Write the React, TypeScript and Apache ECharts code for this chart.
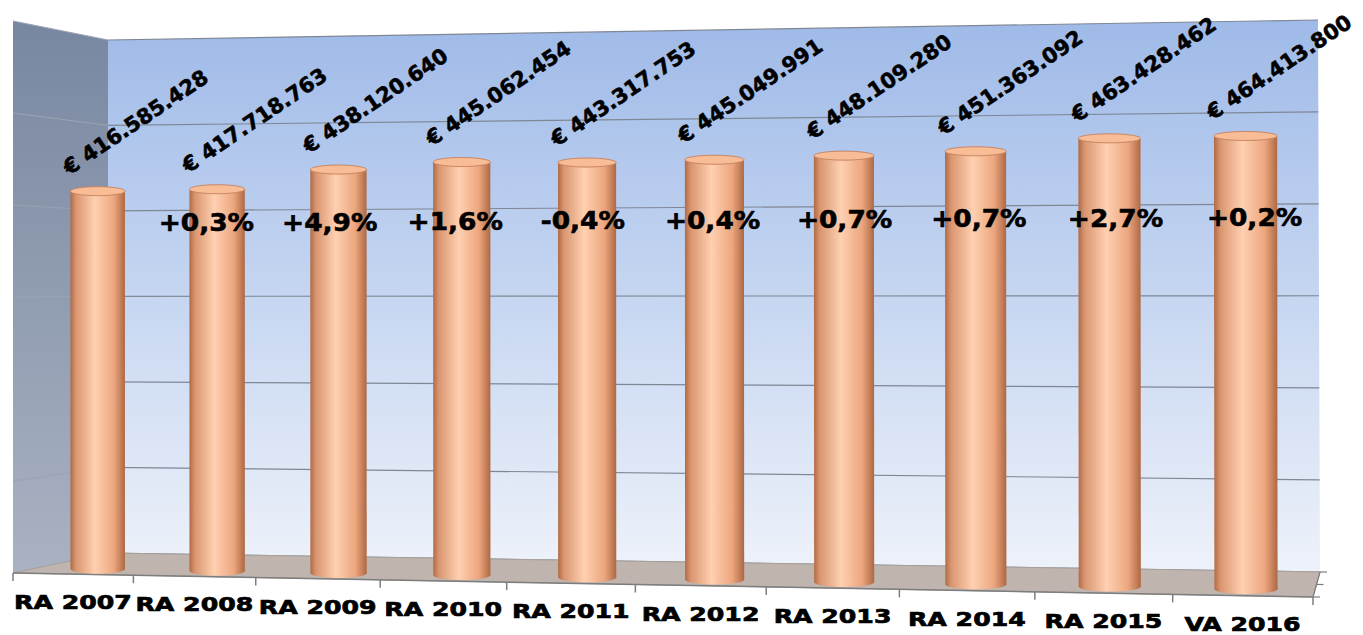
import React, { useEffect, useRef } from "react";
import * as echarts from "echarts";

const categories = ["RA 2007", "RA 2008", "RA 2009", "RA 2010", "RA 2011", "RA 2012", "RA 2013", "RA 2014", "RA 2015", "VA 2016"];
const budgetValues = [416585428, 417718763, 438120640, 445062454, 443317753, 445049991, 448109280, 451363092, 463428462, 464413800];
const valueLabels = ["€ 416.585.428", "€ 417.718.763", "€ 438.120.640", "€ 445.062.454", "€ 443.317.753", "€ 445.049.991", "€ 448.109.280", "€ 451.363.092", "€ 463.428.462", "€ 464.413.800"];
const changeLabels = ["", "+0,3%", "+4,9%", "+1,6%", "-0,4%", "+0,4%", "+0,7%", "+0,7%", "+2,7%", "+0,2%"];
const yTicks = [0, 100000000, 200000000, 300000000, 400000000, 500000000, 600000000];
const Y_MIN = 0;
const Y_MAX = 600000000;
const Y_INTERVAL = 100000000;
const PCT_LEVEL = 379000000;

// perspective frame (layout): front plane and back wall quads, BL, BR, TR, TL
const FRONT: number[][] = [[13, 573], [1313, 597], [1313, -4], [13, 21]];
const BACK: number[][] = [[108, 553], [1320, 572], [1318, 20], [108, 40]];
const BAR_DEPTH = 0.27;
const BAR_HALF = 0.023;

function makeH(q: number[][]) {
  const [[x0, y0], [x1, y1], [x2, y2], [x3, y3]] = q;
  const dx1 = x1 - x2, dx2 = x3 - x2, dx3 = x0 - x1 + x2 - x3;
  const dy1 = y1 - y2, dy2 = y3 - y2, dy3 = y0 - y1 + y2 - y3;
  const den = dx1 * dy2 - dx2 * dy1;
  const g = (dx3 * dy2 - dx2 * dy3) / den;
  const h = (dx1 * dy3 - dx3 * dy1) / den;
  const a = x1 - x0 + g * x1, b = x3 - x0 + h * x3, c = x0;
  const d = y1 - y0 + g * y1, e = y3 - y0 + h * y3, f = y0;
  return (s: number, t: number) => {
    const z = g * s + h * t + 1;
    return [(a * s + b * t + c) / z, (d * s + e * t + f) / z];
  };
}
const HF = makeH(FRONT);
const HB = makeH(BACK);
function proj(s: number, t: number, w: number) {
  const F = HF(s, t);
  const B = HB(s, t);
  return [F[0] + (B[0] - F[0]) * w, F[1] + (B[1] - F[1]) * w];
}

const FONT = "DejaVu Sans";

export default function App() {
  const ref = useRef<HTMLDivElement>(null);
  useEffect(() => {
    const chart = echarts.init(ref.current!, null, { renderer: "svg" });

    const norm = (api: any, cs: any, cat: number, val: number) => {
      const c = api.coord([cat, val]);
      return [(c[0] - cs.x) / cs.width, (cs.y + cs.height - c[1]) / cs.height];
    };

    const frameRender = (params: any, api: any) => {
      const cs = params.coordSys;
      const children: any[] = [];
      const pts = (arr: number[][]) => arr.map((p) => [p[0], p[1]]);
      // side wall
      children.push({
        type: "polygon",
        shape: { points: pts([proj(0, 0, 0), proj(0, 0, 1), proj(0, 1, 1), proj(0, 1, 0)]) },
        style: {
          fill: new echarts.graphic.LinearGradient(0, 0, 0, 1, [
            { offset: 0, color: "#7887a1" },
            { offset: 1, color: "#a9b2c2" },
          ]),
        },
      });
      // back wall
      children.push({
        type: "polygon",
        shape: { points: pts([proj(0, 0, 1), proj(1, 0, 1), proj(1, 1, 1), proj(0, 1, 1)]) },
        style: {
          fill: new echarts.graphic.LinearGradient(0, 0, 0, 1, [
            { offset: 0, color: "#9fbae8" },
            { offset: 0.5, color: "#c6d6f1" },
            { offset: 1, color: "#eef2fa" },
          ]),
        },
      });
      // grid lines
      yTicks.forEach((tick) => {
        const t = norm(api, cs, 0, tick)[1];
        const a = proj(0, t, 0), b = proj(0, t, 1), c = proj(1, t, 1);
        children.push({ type: "line", shape: { x1: a[0], y1: a[1], x2: b[0], y2: b[1] }, style: { stroke: "#9aa3b2", lineWidth: 1 } });
        children.push({ type: "line", shape: { x1: b[0], y1: b[1], x2: c[0], y2: c[1] }, style: { stroke: "#7f8795", lineWidth: 1.2 } });
      });
      // floor
      children.push({
        type: "polygon",
        shape: { points: pts([proj(0, 0, 0), proj(1, 0, 0), proj(1, 0, 1), proj(0, 0, 1)]) },
        style: { fill: "#bfb4ae", stroke: "#a9a09b", lineWidth: 1 },
      });
      // axis line + ticks
      const l0 = proj(0, 0, 0), l1 = proj(1, 0, 0);
      children.push({ type: "line", shape: { x1: l0[0], y1: l0[1], x2: l1[0], y2: l1[1] }, style: { stroke: "#7d7d7d", lineWidth: 1.5 } });
      const band = api.size([1, 0])[0] / cs.width;
      for (let k = 0; k <= categories.length; k++) {
        const s = k < categories.length ? norm(api, cs, k, 0)[0] - band / 2 : norm(api, cs, k - 1, 0)[0] + band / 2;
        const p = proj(s, 0, 0);
        children.push({ type: "line", shape: { x1: p[0], y1: p[1], x2: p[0], y2: p[1] + 8 }, style: { stroke: "#7d7d7d", lineWidth: 1.5 } });
      }
      // depth ticks on right
      const r0 = proj(1, 0, 0), r1 = proj(1, 0, 1);
      children.push({ type: "line", shape: { x1: r0[0], y1: r0[1], x2: r1[0], y2: r1[1] }, style: { stroke: "#7d7d7d", lineWidth: 1.2 } });
      [0, 0.5, 1].forEach((w) => {
        const p = proj(1, 0, w);
        children.push({ type: "line", shape: { x1: p[0], y1: p[1], x2: p[0] + 7, y2: p[1] }, style: { stroke: "#7d7d7d", lineWidth: 1.2 } });
      });
      return { type: "group", children };
    };

    const barRender = (params: any, api: any) => {
      const cs = params.coordSys;
      const idx = api.value(0);
      const val = api.value(1);
      const [s, t] = norm(api, cs, idx, val);
      const t0 = norm(api, cs, idx, 0)[1];
      const bl = proj(s - BAR_HALF, t0, BAR_DEPTH);
      const br = proj(s + BAR_HALF, t0, BAR_DEPTH);
      const tr = proj(s + BAR_HALF, t, BAR_DEPTH);
      const tl = proj(s - BAR_HALF, t, BAR_DEPTH);
      const grad = new echarts.graphic.LinearGradient(0, 0, 1, 0, [
        { offset: 0, color: "#b06a45" },
        { offset: 0.1, color: "#d99670" },
        { offset: 0.45, color: "#ffd0b1" },
        { offset: 0.8, color: "#eca67e" },
        { offset: 1, color: "#ad6843" },
      ]);
      const children: any[] = [];
      children.push({
        type: "ellipse",
        shape: { cx: (bl[0] + br[0]) / 2, cy: (bl[1] + br[1]) / 2, rx: (br[0] - bl[0]) / 2, ry: 5 },
        style: { fill: grad },
      });
      children.push({
        type: "polygon",
        shape: { points: [bl, br, tr, tl] },
        style: { fill: grad },
      });
      children.push({
        type: "ellipse",
        shape: { cx: (tl[0] + tr[0]) / 2, cy: (tl[1] + tr[1]) / 2, rx: (tr[0] - tl[0]) / 2, ry: 4.5 },
        style: { fill: "#f8bc97", stroke: "#c98560", lineWidth: 1 },
      });
      // value label
      children.push({
        type: "text",
        x: tl[0] + 1,
        y: tl[1] - 13,
        rotation: (34 * Math.PI) / 180,
        style: {
          text: valueLabels[idx],
          x: 0,
          y: 0,
          align: "left",
          verticalAlign: "bottom",
          fill: "#000",
          stroke: "#000",
          lineWidth: 0.6,
          fontFamily: FONT,
          fontWeight: "bold",
          fontSize: 21,
        },
      });
      // change label
      if (changeLabels[idx]) {
        const tp = norm(api, cs, idx, PCT_LEVEL)[1];
        const p = proj(s, tp, 0);
        children.push({
          type: "text",
          x: p[0] + 12,
          y: p[1],
          scaleX: 1.1,
          style: {
            text: changeLabels[idx],
            x: 0,
            y: 0,
            align: "center",
            verticalAlign: "middle",
            fill: "#000",
            stroke: "#000",
            lineWidth: 0.6,
            fontFamily: FONT,
            fontWeight: "bold",
            fontSize: 24,
          },
        });
      }
      // category label
      const lp = proj(s, t0, 0);
      children.push({
        type: "text",
        x: lp[0],
        y: lp[1] + 28,
        scaleX: 1.26,
        style: {
          text: categories[idx],
          x: 0,
          y: 0,
          align: "center",
          verticalAlign: "middle",
          fill: "#000",
          stroke: "#000",
          lineWidth: 0.7,
          fontFamily: FONT,
          fontWeight: "bold",
          fontSize: 20,
        },
      });
      return { type: "group", children };
    };

    chart.setOption({
      animation: false,
      backgroundColor: "#ffffff",
      grid: { left: 0, right: 0, top: 0, bottom: 0 },
      xAxis: { type: "category", data: categories, show: false },
      yAxis: { type: "value", min: Y_MIN, max: Y_MAX, interval: Y_INTERVAL, show: false },
      series: [
        { type: "custom", name: "frame", silent: true, renderItem: frameRender, data: [[0, 0]] },
        {
          type: "custom",
          name: "budget",
          silent: true,
          renderItem: barRender,
          data: budgetValues.map((v, i) => [i, v]),
        },
      ],
    });
    return () => chart.dispose();
  }, []);
  return <div ref={ref} style={{ position: "fixed", left: 0, top: 0, width: 1363, height: 635 }} />;
}
